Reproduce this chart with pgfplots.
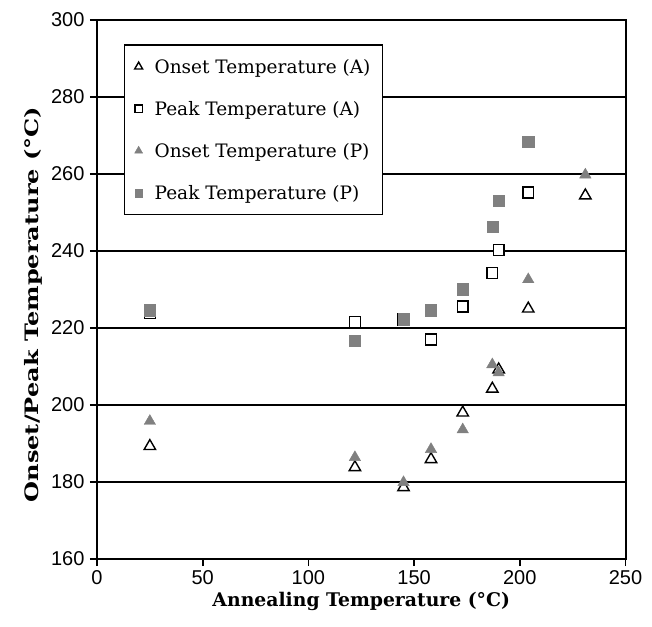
\documentclass[border=0pt]{standalone}
\usepackage{pgfplots}
\pgfplotsset{compat=1.18}
\usepackage{fontspec}
\setmainfont{DejaVu Serif}
\newfontfamily\ticksfont{Liberation Sans}
\definecolor{markgray}{RGB}{128,128,128}

\begin{document}
\begin{tikzpicture}[x=1pt,y=1pt]
\begin{axis}[
  name=main,
  scale only axis,
  width=528.5pt, height=539pt,
  xmin=0, xmax=250, ymin=160, ymax=300,
  xtick={0,50,...,250}, ytick={160,180,...,300},
  tick align=outside,
  major tick length=7pt,
  tick style={line width=1.6pt, black},
  xtick pos=bottom, ytick pos=left,
  axis line style={line width=2pt},
  ymajorgrids,
  grid style={line width=1.6pt, black},
  /pgf/number format/assume math mode=true,
  tick label style={font=\ticksfont\fontsize{20}{20}\selectfont},
  xticklabel style={yshift=-1pt},
  yticklabel style={xshift=-2pt},
  xlabel={\bfseries Annealing Temperature (°C)},
  ylabel={\bfseries Onset/Peak Temperature (°C)},
  xlabel style={font=\fontsize{18.8}{19}\selectfont, yshift=-1pt},
  ylabel style={font=\fontsize{18.5}{19}\selectfont, xshift=-15pt, xscale=1.3, yshift=2pt},
  legend style={
    at={(0.051,0.955)}, anchor=north west,
    draw=black, line width=1.4pt,
    font=\fontsize{18.5}{19}\selectfont,
    row sep=22.5pt,
    inner xsep=10pt, inner ysep=12pt,
    /tikz/every odd column/.append style={column sep=10pt},
  },
  legend image post style={scale=0.7},
  legend cell align=left,
]
% annealed series: open markers
\addplot[only marks, mark=triangle*, mark size=6.6pt,
  mark options={fill=white, draw=black, line width=1.4pt}]
  coordinates {(25,189.3) (122,183.8) (145,178.6) (158,185.9) (173,198.0)
               (187,204.2) (190,209.2) (204,225.0) (231,254.4)};
\addlegendentry{Onset Temperature (A)}
\addplot[only marks, mark=square*, mark size=5.4pt,
  mark options={fill=white, draw=black, line width=1.4pt}]
  coordinates {(25,223.8) (122,221.6) (145,222.2) (158,217.0) (173,225.6)
               (187,234.3) (190,240.3) (204,255.2)};
\addlegendentry{Peak Temperature (A)}
% pressed series: filled grey markers
\addplot[only marks, mark=triangle*, mark size=6.6pt,
  mark options={fill=markgray, draw=markgray, line width=0.4pt}]
  coordinates {(25,195.8) (122,186.4) (145,179.9) (158,188.5) (173,193.6)
               (187,210.5) (190,208.4) (204,232.6) (231,259.8)};
\addlegendentry{Onset Temperature (P)}
\addplot[only marks, mark=square*, mark size=5.6pt,
  mark options={fill=markgray, draw=markgray, line width=0.4pt}]
  coordinates {(25,224.6) (122,216.8) (145,222.3) (158,224.6) (173,230.1)
               (187,246.4) (190,253.0) (204,268.4)};
\addlegendentry{Peak Temperature (P)}
\end{axis}
% fixed page frame around the axis
\path (main.south west) ++(-97pt,-67pt) rectangle ++(652pt,626pt);
\end{tikzpicture}
\end{document}
